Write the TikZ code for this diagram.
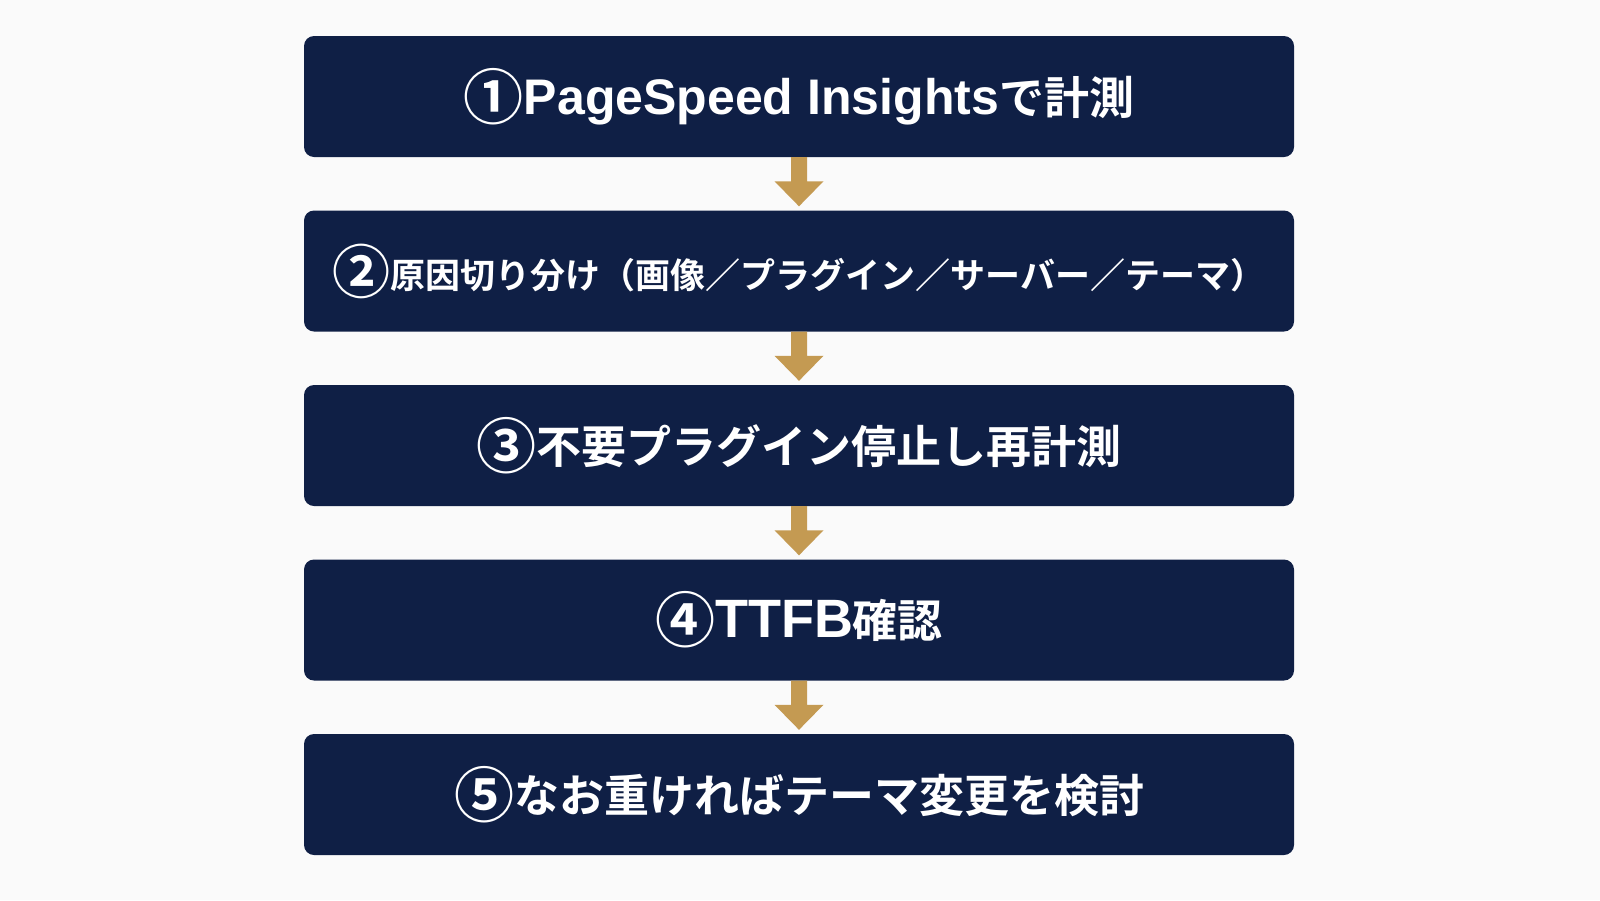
\documentclass[tikz,border=0pt]{standalone}
\usepackage{fontspec}
\newfontfamily\cjk{Noto Sans CJK JP Bold}
\newfontfamily\latf{Liberation Sans}
\newcommand\lat[2][50pt]{{\latf\bfseries\fontsize{#1}{#1}\selectfont #2}}
\newcommand\cnum[2][60pt]{{\fontsize{#1}{#1}\selectfont\raisebox{-5pt}{#2}}}
\usetikzlibrary{calc}
\definecolor{navy}{HTML}{0F1F45}
\definecolor{gold}{HTML}{C49A52}
\definecolor{bg}{HTML}{FAFAFA}
\tikzset{
  stepbox/.style={fill=navy, rounded corners=10pt, minimum width=990pt, minimum height=121pt, inner sep=0pt, text=white, font=\cjk\fontsize{45pt}{54pt}\selectfont},
  smalltext/.style={font=\cjk\fontsize{35pt}{42pt}\selectfont},
}
\begin{document}
\begin{tikzpicture}[x=1pt,y=-1pt]
\fill[bg] (0,0) rectangle (1600,900);
\useasboundingbox (0,0) rectangle (1600,900);
\node[stepbox] (b1) at (799,96.5) {\cnum{①}\lat{PageSpeed Insights}で計測};
\node[stepbox, smalltext] (b2) at (799,271) {\cnum[58pt]{②}原因切り分け（画像／プラグイン／サーバー／テーマ）};
\node[stepbox] (b3) at (799,445.5) {\cnum{③}不要プラグイン停止し再計測};
\node[stepbox] (b4) at (799,620) {\cnum{④}\lat[54pt]{TTFB}確認};
\node[stepbox] (b5) at (799,794.5) {\cnum{⑤}なお重ければテーマ変更を検討};
\foreach \a/\b in {b1/b2,b2/b3,b3/b4,b4/b5}{
  \fill[gold] ($(\a.south)+(-8,0)$) -- ($(\a.south)+(8,0)$) -- ($(\b.north)+(8,-29)$) -- ($(\b.north)+(24.5,-29)$) -- ($(\b.north)+(0,-4)$) -- ($(\b.north)+(-24.5,-29)$) -- ($(\b.north)+(-8,-29)$) -- cycle;
}
\end{tikzpicture}
\end{document}
